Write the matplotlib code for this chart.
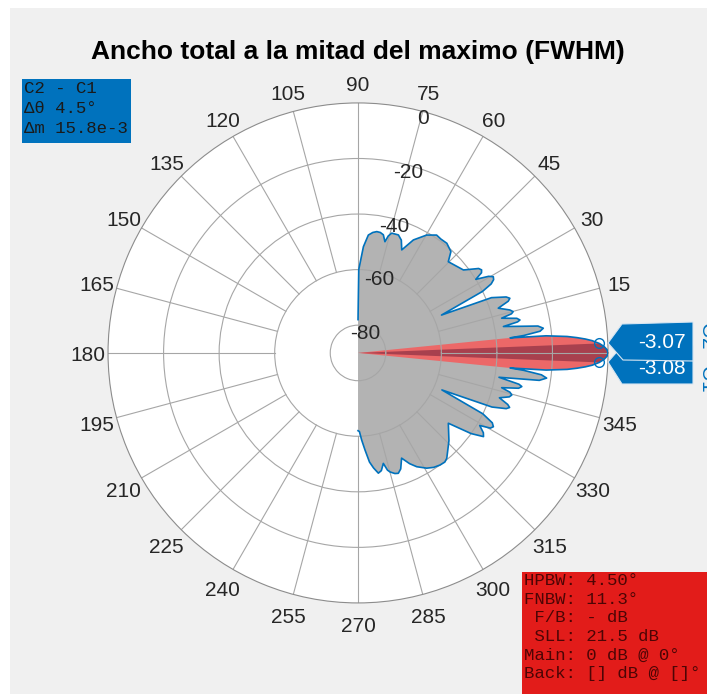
import matplotlib.pyplot as plt
import numpy as np
from matplotlib.patches import Polygon, Rectangle
from matplotlib.transforms import offset_copy

# pattern (degrees, dB)
angles = [-90, -89, -87.6, -85.9, -84, -82.3, -80.4, -78.8, -77.1, -75.9, -74.9, -73, -71.5,
          -69.8, -67.5, -65, -62.7, -59.2, -56.5, -53.8, -51.5, -49.9, -44, -37.9, -35.5,
          -33.7, -32.5, -30.8, -29.6, -28.6, -27.5, -26, -23.8, -22, -20.6, -19.8, -19,
          -17.6, -16.2, -15.3, -14.5, -13.6, -12.4, -11.6, -11, -9.8, -8.6, -7.6, -6.8, -6,
          -5.65, -5.2, -4.5, -4, -3.5, -3, -2.25, -1.5, -0.75, 0, 0.75, 1.5, 2.25, 3, 3.5,
          4, 4.5, 5.2, 5.65, 6, 6.8, 7.6, 8.5, 9.5, 10.3, 11, 11.5, 12.3, 13.6, 14.3, 14.9,
          15.8, 17.7, 19, 19.8, 20.7, 22.5, 24.4, 26.3, 27.4, 28.4, 29.4, 30.4, 32, 33,
          33.9, 35, 38.2, 45.3, 47.5, 51, 54, 56.3, 59.8, 63.9, 67, 69, 71.1, 74.3, 75.5,
          76.4, 77.9, 79.5, 81.2, 83, 85, 87.1, 89.5, 90]
gain_db = [-62, -61.7, -58.6, -55, -50.5, -48.2, -46.1, -46.8, -49.2, -46.5, -45.6, -44.6,
           -44.3, -45.5, -49, -46, -43.9, -41.7, -40.6, -40, -39.8, -40.4, -44.5, -48.8, -40,
           -35.7, -36.5, -39, -35.2, -34.5, -35.5, -40, -57, -38, -33, -32, -33, -36.6, -33.3,
           -32.6, -33.5, -36.8, -30.8, -29.8, -31, -38.5, -24, -21.5, -23.5, -30, -35, -22,
           -14.5, -11, -8, -5.6, -3.08, -1.4, -0.35, 0, -0.35, -1.4, -3.07, -5.6, -8, -11,
           -14.5, -22, -35, -30, -24, -22.7, -24.5, -32, -36.8, -31.5, -30.5, -31.5, -36.8,
           -33, -32.2, -33.2, -37, -32.8, -31.9, -33, -38, -57, -40, -36, -34.5, -34.1, -35.5,
           -40, -37, -36.4, -37, -41.7, -43.8, -40.5, -39.2, -39.3, -39, -40.9, -44.7, -49.7,
           -46.5, -45.1, -45.2, -46.5, -48.8, -46.5, -45.9, -45.8, -46.3, -47.4, -51.7, -60,
           -78]

hpbw = 4.5
fnbw = 11.3
cursor_ang = [2.25, -2.25]
cursor_val = [-3.07, -3.08]

r_ticks = [-80, -60, -40, -20, 0]
theta_ticks = list(range(0, 360, 15))

W, H = 707, 694


def fx(x):
    return x / W


def fy(y):
    return 1 - y / H


fig = plt.figure(figsize=(7.07, 6.94), dpi=100)
fig.patch.set_facecolor('white')
fig.patches.append(Rectangle((fx(10), 0), 1, fy(8), transform=fig.transFigure,
                             facecolor='#f0f0f0', edgecolor='none', zorder=-5))

ax = fig.add_axes([0.1528, 0.1312, 0.7072, 0.7205], projection='polar')
ax.set_facecolor('white')
ax.set_rlim(-90, 0)
ax.set_xticks(np.deg2rad(theta_ticks))
ax.set_xticklabels([])
ax.xaxis.grid(False)
ax.set_yticks(r_ticks[:-1])
ax.set_yticklabels([])
ax.yaxis.grid(True, color='#a6a6a6', lw=0.8)
ax.spines['polar'].set_color('#8c8c8c')
ax.spines['polar'].set_linewidth(0.8)

for t in theta_ticks:
    ax.plot(np.deg2rad([t, t]), [-60, 0], color='#a6a6a6', lw=0.8, zorder=1.5)

th = np.deg2rad(angles)
g = np.array(gain_db)

# gray filled pattern
ax.fill(np.concatenate([th, np.deg2rad([90, -90])]), np.concatenate([g, [-90, -90]]),
        color='#b3b3b3', lw=0, zorder=1)

# main lobe (FNBW) and half power (HPBW) regions
a = np.array(angles)
m = np.abs(a) <= fnbw / 2 + 0.01
ax.fill(np.concatenate([[0], th[m], [0]]), np.concatenate([[-90], g[m], [-90]]),
        color='#ec6868', lw=0, zorder=1.2)
m = np.abs(a) <= hpbw / 2 + 0.01
ax.fill(np.concatenate([[0], th[m], [0]]), np.concatenate([[-90], g[m], [-90]]),
        color='#a8404e', lw=0, zorder=1.3)

ax.plot(th, g, color='#0072BD', lw=1.2, zorder=3)
ax.plot(np.deg2rad(cursor_ang), cursor_val, 'o', mfc='none', mec='#0072BD', ms=7, mew=1,
        zorder=4)

lab_tr = offset_copy(ax.transData, fig=fig, x=0, y=-3, units='dots')
for t in theta_ticks:
    ax.text(np.deg2rad(t), 7.4, str(t), ha='center', va='center', fontsize=15,
            family='Liberation Sans', color='#262626', clip_on=False, transform=lab_tr)
rlab_tr = offset_copy(ax.transData, fig=fig, x=0, y=2, units='dots')
for r in r_ticks:
    ax.text(np.deg2rad(75), r, str(r), ha='center', va='top', fontsize=15,
            family='Liberation Sans', color='#262626', clip_on=False, zorder=5,
            transform=rlab_tr)

fig.text(fx(358), fy(52), 'Ancho total a la mitad del maximo (FWHM)', ha='center',
         va='center', fontsize=19, fontweight='bold', family='Liberation Sans', color='black')

# cursor callouts
box2 = [(608, 362), (622, 346), (693, 346), (693, 384), (622, 384)]
box1 = [(608, 343), (622, 324), (693, 322), (693, 361), (623, 360)]
fig.patches.append(Polygon([(fx(x), fy(y)) for x, y in box2], closed=True,
                           transform=fig.transFigure, facecolor='#0072BD',
                           edgecolor='#d8e6f2', lw=0.8, zorder=2))
fig.text(fx(662), fy(368), f'{cursor_val[1]:.2f}', ha='center', va='center', fontsize=15,
         family='Liberation Sans', color='white', zorder=2.5)
fig.patches.append(Polygon([(fx(x), fy(y)) for x, y in box1], closed=True,
                           transform=fig.transFigure, facecolor='#0072BD',
                           edgecolor='#d8e6f2', lw=0.8, zorder=3))
fig.text(fx(662), fy(342), f'{cursor_val[0]:.2f}', ha='center', va='center', fontsize=15,
         family='Liberation Sans', color='white', zorder=3.5)
fig.text(fx(697), fy(323), 'C2', rotation=-90, ha='left', va='top', fontsize=15,
         family='Liberation Sans', color='#0072BD')
fig.text(fx(697), fy(366), 'C1', rotation=-90, ha='left', va='top', fontsize=15,
         family='Liberation Sans', color='#0072BD')

# info boxes
fig.patches.append(Rectangle((fx(22), fy(143)), fx(131) - fx(22), fy(79) - fy(143),
                             transform=fig.transFigure, facecolor='#0072BD',
                             edgecolor='none', zorder=2))
fig.text(fx(24), fy(81), 'C2 - C1\nΔθ 4.5°\nΔm 15.8e-3', ha='left', va='top', fontsize=12.5,
         family='Liberation Mono', color='#1a1a1a', linespacing=1.4, zorder=3)

fig.patches.append(Rectangle((fx(522), 0), 1, fy(572), transform=fig.transFigure,
                             facecolor='#e21c1a', edgecolor='none', zorder=2))
fig.text(fx(524), fy(573), f'HPBW: {hpbw:.2f}°\nFNBW: {fnbw:.1f}°\n F/B: - dB\n SLL: 21.5 dB\n'
         'Main: 0 dB @ 0°\nBack: [] dB @ []°', ha='left', va='top', fontsize=12.5,
         family='Liberation Mono', color='#4d0505', linespacing=1.3, zorder=3)

fig.savefig('out.png', dpi=100)
